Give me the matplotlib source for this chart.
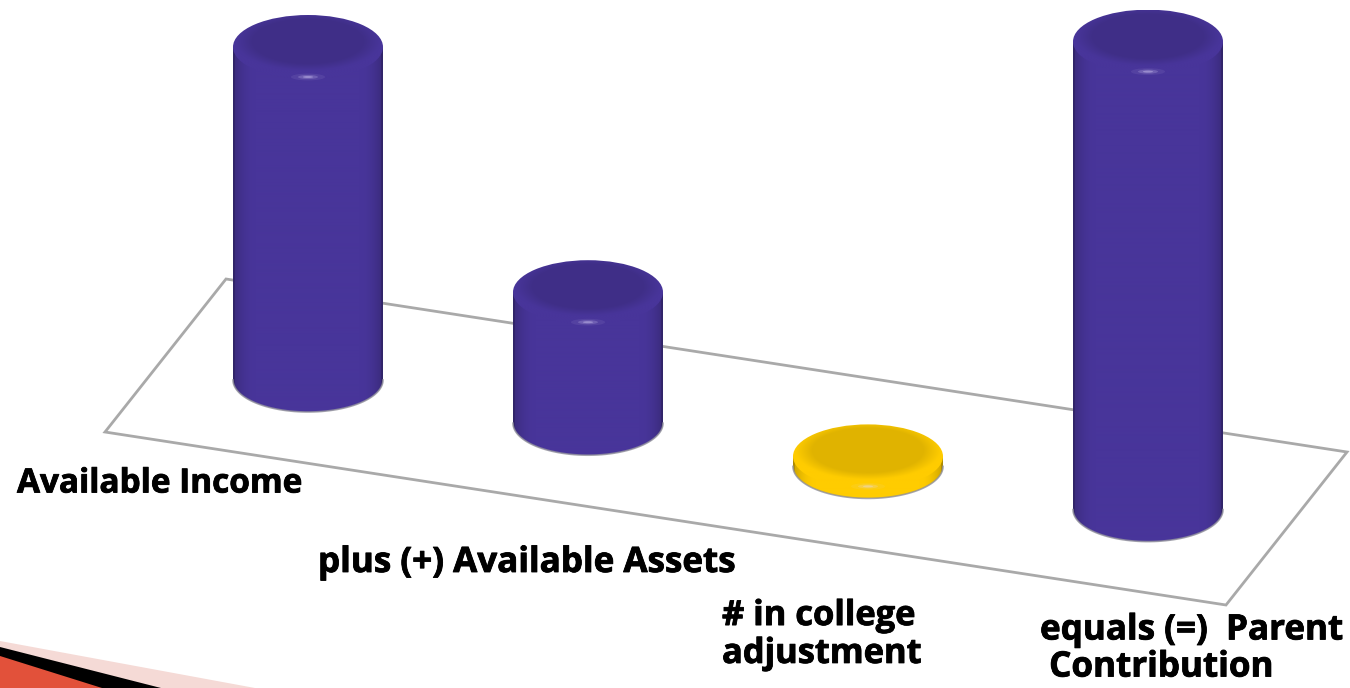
import matplotlib
matplotlib.use('Agg')
import matplotlib.pyplot as plt
import matplotlib.patheffects as pe
import numpy as np
from matplotlib.colors import to_rgb
from matplotlib.patches import Ellipse, PathPatch, Polygon
from matplotlib.path import Path

categories = ['Available Income', 'plus (+) Available Assets',
              '# in college\nadjustment', 'equals (=)  Parent\n Contribution']
values = [333, 131, 10, 468]
bar_colors = ['#48359a', '#48359a', '#ffcc00', '#48359a']

# floor layout in pixels, y goes down
FIRST_BASE = (308, 380)
STEP = (280, 43.2)
RX, RY = 75, 32
FLOOR = [(105, 432), (1226, 605), (1347, 452), (226, 279)]
label_pos = [(17, 484), (318, 563), (722, 635), (1040, 649)]
label_size = [24, 25.2, 24.8, 25.2]
label_spacing = [1.15, 1.15, 1.15, 1.04]


def shade(color, f):
    c = np.array(to_rgb(color))
    return np.clip(c * f, 0, 1)


def draw_bar(ax, cx, cy, height, color, zo):
    top = cy - height
    # side of the cylinder, a horizontal gradient clipped to the outline
    verts = [(cx - RX, top), (cx - RX, cy)]
    codes = [Path.MOVETO, Path.LINETO]
    t = np.linspace(np.pi, 0, 40)
    verts += list(zip(cx + RX * np.cos(t), cy + RY * np.sin(t)))
    codes += [Path.LINETO] * 40
    verts += [(cx + RX, top), (cx - RX, top)]
    codes += [Path.LINETO, Path.CLOSEPOLY]
    outline = PathPatch(Path(verts, codes), fc='none', ec='none', zorder=zo)
    ax.add_patch(outline)

    u = np.abs(np.linspace(-1, 1, 150))
    f = 1 - 0.2 * np.clip((u - 0.7) / 0.3, 0, 1) ** 2
    f = np.where(u > 0.985, f * 0.85, f)
    img = np.array([shade(color, v) for v in f])[None, :, :]
    im = ax.imshow(img, extent=(cx - RX, cx + RX, cy + RY, top), aspect='auto',
                   zorder=zo, interpolation='bilinear')
    im.set_clip_path(outline)

    # soft grey edge under the base
    t = np.linspace(np.pi, 0, 60)
    ax.plot(cx + RX * np.cos(t), cy + RY * np.sin(t), color='#8f8f9a', lw=1.2,
            alpha=0.8, zorder=zo)

    # top ellipse: lighter rim, darker soft centre
    cap = Ellipse((cx, top), 2 * RX, 2 * RY, fc='none', ec='none', zorder=zo + 0.1)
    ax.add_patch(cap)
    xx, yy = np.meshgrid(np.linspace(-1, 1, 200), np.linspace(-1, 1, 120))
    d = np.sqrt((xx / 0.93) ** 2 + ((yy + 0.18) / 0.88) ** 2)
    k = np.clip((d - 0.8) / 0.25, 0, 1)
    rgb = shade(color, 0.88) * (1 - k[..., None]) + shade(color, 1.0) * k[..., None]
    im = ax.imshow(rgb, extent=(cx - RX, cx + RX, top + RY, top - RY), aspect='auto',
                   zorder=zo + 0.1, interpolation='bilinear')
    im.set_clip_path(cap)

    # small highlight under the cap
    hy = top + RY - 2
    for w, a in [(34, 0.08), (20, 0.2), (10, 0.35)]:
        ax.add_patch(Ellipse((cx, hy), w, w / 5, fc='#e4dcff', ec='none', alpha=a, zorder=zo + 0.2))


fig = plt.figure(figsize=(13.5, 6.88), dpi=100)
ax = fig.add_axes([0, 0, 1, 1])
ax.set_xlim(0, 1350)
ax.set_ylim(688, 0)
ax.axis('off')

ax.add_patch(Polygon(FLOOR, closed=True, fc='white', ec='#a9a9a9', lw=2, zorder=1))

for i, (val, col) in enumerate(zip(values, bar_colors)):
    draw_bar(ax, FIRST_BASE[0] + i * STEP[0], FIRST_BASE[1] + i * STEP[1], val, col, 2 + i)

for lab, (x, y), size, sp in zip(categories, label_pos, label_size, label_spacing):
    ax.text(x, y, lab, ha='left', va='center', fontsize=size, family='Open Sans', fontweight='bold',
            color='black', linespacing=sp, zorder=10, multialignment='left',
            path_effects=[pe.withStroke(linewidth=0.6, foreground='black')])

# corner chevron from the slide template
ax.add_patch(Polygon([(0, 641), (255, 688), (0, 688)], fc='#f5dad6', ec='none', zorder=0.5))
ax.add_patch(Polygon([(0, 647), (161, 688), (0, 688)], fc='black', ec='none', zorder=0.6))
ax.add_patch(Polygon([(0, 656), (102, 688), (0, 688)], fc='#e2513a', ec='none', zorder=0.7))
ax.set_xlim(0, 1350)
ax.set_ylim(688, 0)

fig.savefig('out.png', dpi=100)
